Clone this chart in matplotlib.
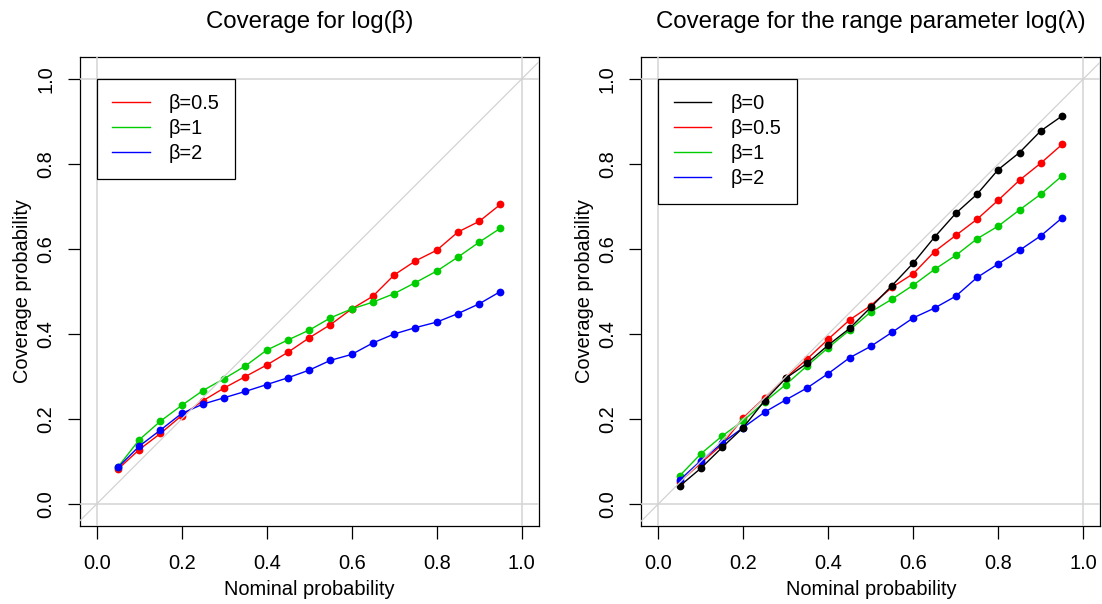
import matplotlib
matplotlib.use("Agg")
import matplotlib.pyplot as plt

plt.rcParams['font.family'] = ['Liberation Sans', 'DejaVu Sans']

nominal = [0.05, 0.10, 0.15, 0.20, 0.25, 0.30, 0.35, 0.40, 0.45, 0.50,
           0.55, 0.60, 0.65, 0.70, 0.75, 0.80, 0.85, 0.90, 0.95]

# Left panel: coverage for log(beta)
left_b05 = [0.082, 0.128, 0.166, 0.208, 0.243, 0.273, 0.300, 0.327, 0.357, 0.391,
            0.422, 0.459, 0.489, 0.539, 0.572, 0.597, 0.640, 0.665, 0.705]
left_b1 = [0.087, 0.151, 0.195, 0.232, 0.267, 0.295, 0.325, 0.362, 0.386, 0.409,
           0.438, 0.459, 0.475, 0.495, 0.521, 0.548, 0.581, 0.616, 0.649]
left_b2 = [0.086, 0.136, 0.174, 0.213, 0.235, 0.250, 0.265, 0.281, 0.297, 0.315,
           0.338, 0.352, 0.379, 0.400, 0.415, 0.428, 0.448, 0.471, 0.500]

# Right panel: coverage for log(lambda)
right_b0 = [0.042, 0.084, 0.133, 0.180, 0.243, 0.296, 0.331, 0.374, 0.413, 0.463,
            0.514, 0.567, 0.628, 0.684, 0.729, 0.787, 0.827, 0.878, 0.913]
right_b05 = [0.052, 0.096, 0.140, 0.203, 0.250, 0.297, 0.341, 0.388, 0.433, 0.467,
             0.510, 0.542, 0.594, 0.632, 0.670, 0.715, 0.762, 0.802, 0.846]
right_b1 = [0.066, 0.118, 0.160, 0.196, 0.240, 0.281, 0.325, 0.368, 0.409, 0.452,
            0.482, 0.515, 0.552, 0.585, 0.624, 0.654, 0.692, 0.729, 0.772]
right_b2 = [0.056, 0.102, 0.143, 0.180, 0.216, 0.245, 0.273, 0.307, 0.344, 0.371,
            0.404, 0.438, 0.461, 0.489, 0.533, 0.565, 0.597, 0.631, 0.673]

ticks = [0.0, 0.2, 0.4, 0.6, 0.8, 1.0]
tick_labels = ["0.0", "0.2", "0.4", "0.6", "0.8", "1.0"]

titles = ["Coverage for log(β)", "Coverage for the range parameter log(λ)"]
xlabel = "Nominal probability"
ylabel = "Coverage probability"

left_series = [("β=0.5", left_b05, "#FF0000"),
               ("β=1", left_b1, "#00CD00"),
               ("β=2", left_b2, "#0000FF")]
right_series = [("β=0", right_b0, "#000000"),
                ("β=0.5", right_b05, "#FF0000"),
                ("β=1", right_b1, "#00CD00"),
                ("β=2", right_b2, "#0000FF")]
right_draw_order = [1, 2, 3, 0]  # black drawn last

W, H = 1102, 604
fig = plt.figure(figsize=(W / 100, H / 100), dpi=100)
FS = 14.4

ax_w = 459 / W
ax_h = 469.2 / H
ax_b = 77.9 / H
ax1 = fig.add_axes([79.7 / W, ax_b, ax_w, ax_h])
ax2 = fig.add_axes([641.3 / W, ax_b, ax_w, ax_h])


def style(ax, title):
    ax.set_xlim(-0.04, 1.04)
    ax.set_ylim(-0.052, 1.052)
    for sp in ax.spines.values():
        sp.set_linewidth(0.9)
        sp.set_color("black")
    ax.set_xticks(ticks)
    ax.set_xticklabels(tick_labels)
    ax.set_yticks(ticks)
    ax.set_yticklabels(tick_labels)
    ax.tick_params(axis='both', direction='out', length=9, width=0.9,
                   labelsize=FS, color='black')
    ax.tick_params(axis='x', pad=11)
    ax.tick_params(axis='y', pad=8.5)
    for lbl in ax.get_yticklabels():
        lbl.set_rotation(90)
        lbl.set_va('center')
    ax.set_xlabel(xlabel, fontsize=FS, labelpad=5)
    ax.set_ylabel(ylabel, fontsize=FS, labelpad=3)
    ax.set_title(title, fontsize=17.3, pad=20.5)
    # reference lines
    gcol = "#D3D3D3"
    ax.axhline(0, color=gcol, lw=1.1, zorder=5)
    ax.axhline(1, color=gcol, lw=1.1, zorder=5)
    ax.axvline(0, color=gcol, lw=1.1, zorder=5)
    ax.axvline(1, color=gcol, lw=1.1, zorder=5)
    ax.axline((0, 0), slope=1, color=gcol, lw=0.9, zorder=5)


def draw(ax, series, order):
    handles = [None] * len(series)
    for z, i in enumerate(order):
        lab, vals, col = series[i]
        ax.plot(nominal, vals, color=col, lw=1.0, zorder=2 + z * 0.1)
        ax.plot(nominal, vals, ls='none', marker='o', ms=5.6, color=col,
                markeredgewidth=0, zorder=2.05 + z * 0.1)
    for i, (lab, vals, col) in enumerate(series):
        h, = ax.plot([], [], color=col, lw=1.0, label=lab)
        handles[i] = h
    leg = ax.legend(handles=handles, loc='upper left', bbox_to_anchor=(0, 1),
                    bbox_transform=ax.transData, borderaxespad=0,
                    fontsize=FS, frameon=True, fancybox=False, framealpha=1,
                    edgecolor='black', borderpad=0.77, labelspacing=0.3,
                    handlelength=1.88, handletextpad=0.97)
    leg.get_frame().set_linewidth(0.9)
    leg.set_zorder(10)


style(ax1, titles[0])
draw(ax1, left_series, [0, 1, 2])
style(ax2, titles[1])
draw(ax2, right_series, right_draw_order)

fig.savefig("out.png", dpi=100)
